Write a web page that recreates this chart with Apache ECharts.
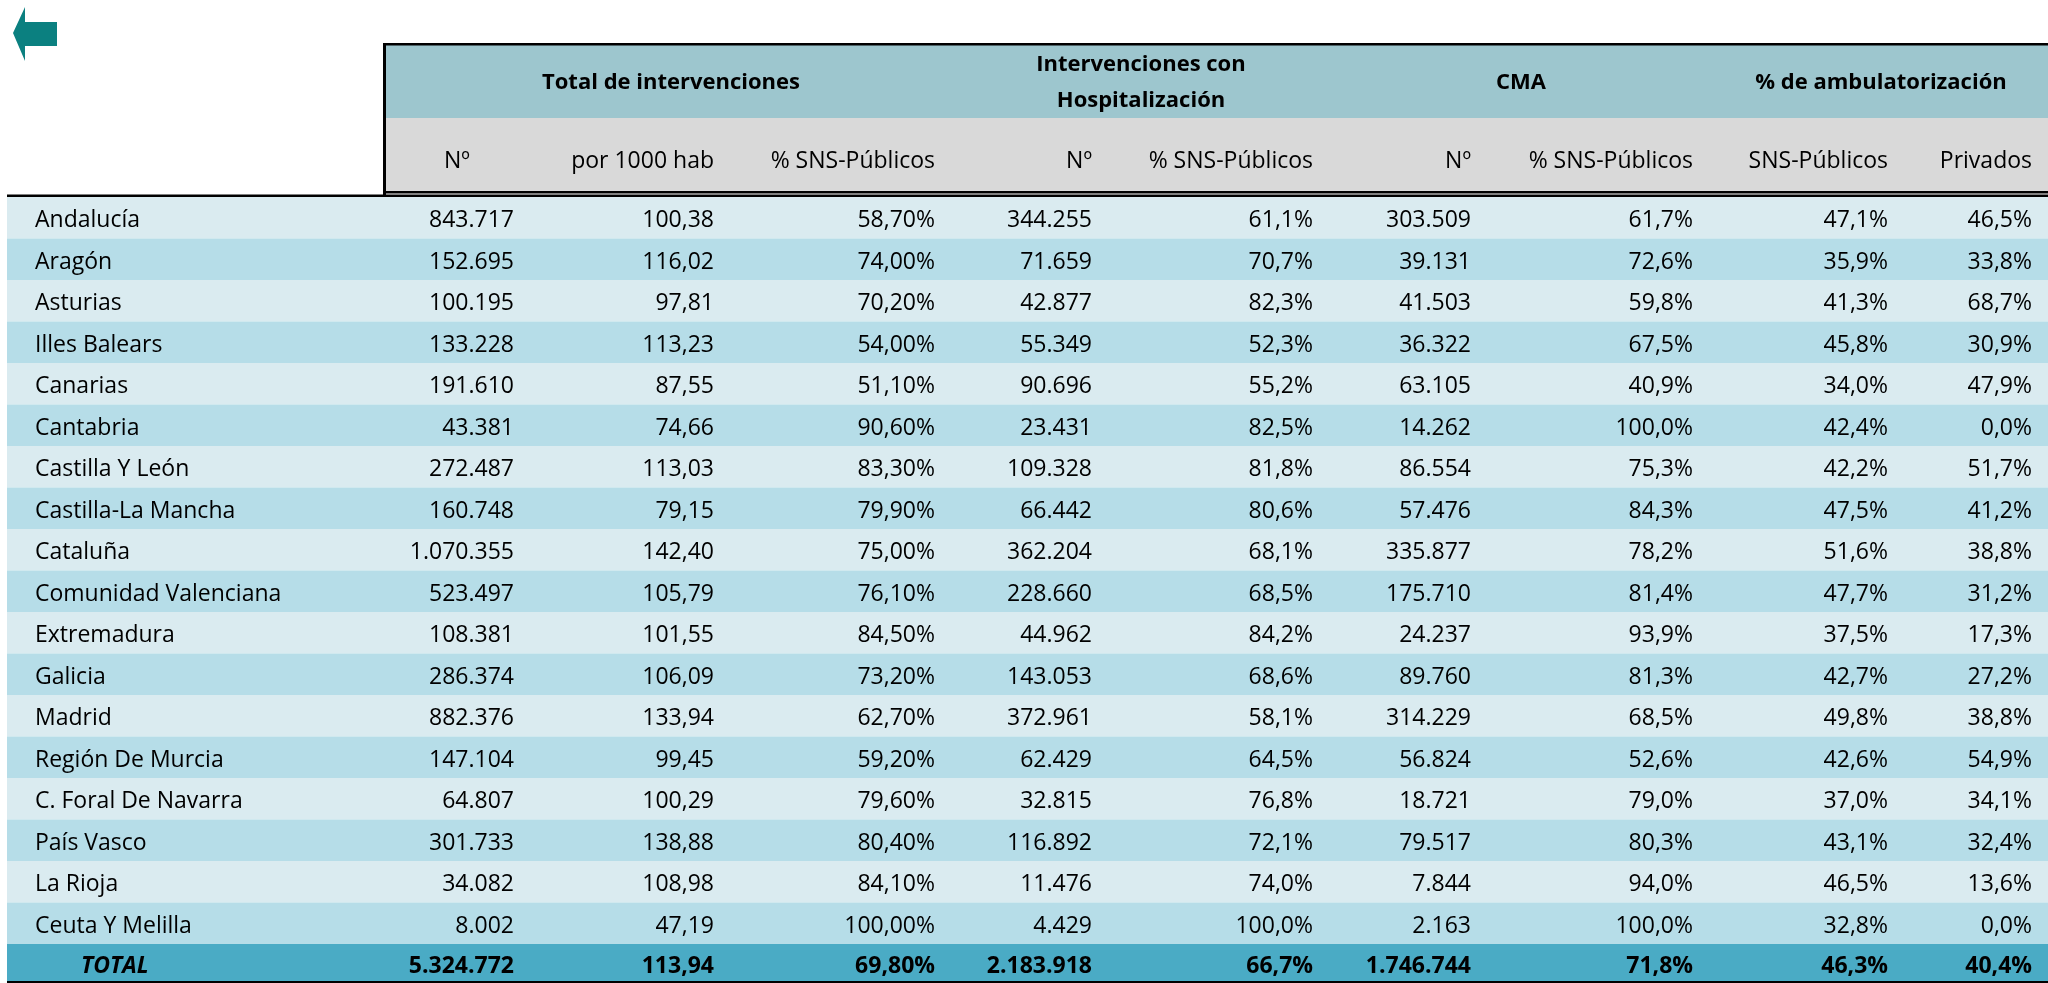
<!DOCTYPE html>
<html>
<head>
<meta charset="utf-8">
<script src="https://cdn.jsdelivr.net/npm/echarts@6/dist/echarts.min.js"></script>
<style>
  html, body { margin: 0; padding: 0; background: #fff; }
  #tabla { width: 2048px; height: 983px; }
</style>
</head>
<body>
<div id="tabla"></div>
<script>
// datos de la tabla
const regiones = ['Andalucía', 'Aragón', 'Asturias', 'Illes Balears', 'Canarias', 'Cantabria',
  'Castilla Y León', 'Castilla-La Mancha', 'Cataluña', 'Comunidad Valenciana', 'Extremadura',
  'Galicia', 'Madrid', 'Región De Murcia', 'C. Foral De Navarra', 'País Vasco', 'La Rioja',
  'Ceuta Y Melilla'];
const totalNum = [843717, 152695, 100195, 133228, 191610, 43381, 272487, 160748, 1070355, 523497,
  108381, 286374, 882376, 147104, 64807, 301733, 34082, 8002];
const totalPor1000 = [100.38, 116.02, 97.81, 113.23, 87.55, 74.66, 113.03, 79.15, 142.40, 105.79,
  101.55, 106.09, 133.94, 99.45, 100.29, 138.88, 108.98, 47.19];
const totalPctSNS = [58.70, 74.00, 70.20, 54.00, 51.10, 90.60, 83.30, 79.90, 75.00, 76.10,
  84.50, 73.20, 62.70, 59.20, 79.60, 80.40, 84.10, 100.00];
const hospNum = [344255, 71659, 42877, 55349, 90696, 23431, 109328, 66442, 362204, 228660,
  44962, 143053, 372961, 62429, 32815, 116892, 11476, 4429];
const hospPctSNS = [61.1, 70.7, 82.3, 52.3, 55.2, 82.5, 81.8, 80.6, 68.1, 68.5,
  84.2, 68.6, 58.1, 64.5, 76.8, 72.1, 74.0, 100.0];
const cmaNum = [303509, 39131, 41503, 36322, 63105, 14262, 86554, 57476, 335877, 175710,
  24237, 89760, 314229, 56824, 18721, 79517, 7844, 2163];
const cmaPctSNS = [61.7, 72.6, 59.8, 67.5, 40.9, 100.0, 75.3, 84.3, 78.2, 81.4,
  93.9, 81.3, 68.5, 52.6, 79.0, 80.3, 94.0, 100.0];
const ambSNS = [47.1, 35.9, 41.3, 45.8, 34.0, 42.4, 42.2, 47.5, 51.6, 47.7,
  37.5, 42.7, 49.8, 42.6, 37.0, 43.1, 46.5, 32.8];
const ambPrivados = [46.5, 33.8, 68.7, 30.9, 47.9, 0.0, 51.7, 41.2, 38.8, 31.2,
  17.3, 27.2, 38.8, 54.9, 34.1, 32.4, 13.6, 0.0];
const totales = [5324772, 113.94, 69.80, 2183918, 66.7, 1746744, 71.8, 46.3, 40.4];

const grupos = ['Total de intervenciones', 'Intervenciones con\nHospitalización', 'CMA', '% de ambulatorización'];
const subcabeceras = ['Nº', 'por 1000 hab', '% SNS-Públicos', 'Nº', '% SNS-Públicos', 'Nº',
  '% SNS-Públicos', 'SNS-Públicos', 'Privados'];

const columnas = [totalNum, totalPor1000, totalPctSNS, hospNum, hospPctSNS, cmaNum, cmaPctSNS, ambSNS, ambPrivados];

// formato de cada columna (decimales, si lleva %)
const decimales = [0, 2, 2, 0, 1, 0, 1, 1, 1];
const esPct = [false, false, true, false, true, false, true, true, true];

// maquetación (px en el eje x, que va de 0 a 2048)
const bordeDer = [514, 714, 935, 1092, 1313, 1471, 1693, 1888, 2032];
const centroGrupo = [671, 1141, 1521, 1881];
const FUENTE = '"Open Sans", Lato, sans-serif';
const TAM = 23;

function formato(v, dec, pct) {
  let [ent, fr] = v.toFixed(dec).split('.');
  ent = ent.replace(/\B(?=(\d{3})+(?!\d))/g, '.');
  return (fr ? ent + ',' + fr : ent) + (pct ? '%' : '');
}

function texto(x, y, t, align, extra) {
  return {
    type: 'text',
    style: Object.assign({
      text: t, x: x, y: y,
      align: align, verticalAlign: 'middle',
      textAlign: align, textVerticalAlign: 'middle',
      fontFamily: FUENTE, fontSize: TAM, fill: '#000'
    }, extra || {})
  };
}

function pintarCabecera(params, api) {
  const fila = api.value(1);
  const c = api.coord([0, fila]);
  const h = api.size([0, 1])[1];
  const x0 = api.coord([385, fila])[0];
  const x1 = api.coord([2048, fila])[0];
  const hijos = [{
    type: 'rect',
    shape: { x: x0, y: c[1] - h / 2, width: x1 - x0, height: h },
    style: { fill: fila === 0 ? '#9dc6ce' : '#d9d9d9' }
  }];
  if (fila === 0) {
    grupos.forEach((g, i) => {
      hijos.push(texto(api.coord([centroGrupo[i], fila])[0], c[1] + 1, g, 'center',
        { fontWeight: 'bold', fontSize: 22, lineHeight: 36 }));
    });
  } else {
    subcabeceras.forEach((s, j) => {
      if (j === 0) {
        hijos.push(texto(api.coord([457, fila])[0], c[1] + 7, s, 'center'));
      } else {
        hijos.push(texto(api.coord([bordeDer[j], fila])[0], c[1] + 7, s, 'right'));
      }
    });
  }
  return { type: 'group', children: hijos };
}

function pintarFila(params, api) {
  const r = api.value(1);
  const c = api.coord([0, r]);
  const h = api.size([0, 1])[1];
  const x0 = api.coord([7, r])[0];
  const x1 = api.coord([2048, r])[0];
  const y = c[1] + 3;
  const hijos = [{
    type: 'rect',
    shape: { x: x0, y: c[1] - h / 2, width: x1 - x0, height: h },
    style: { fill: r % 2 ? '#b6dde8' : '#daebf0' }
  }];
  hijos.push(texto(api.coord([35, r])[0], y, regiones[r], 'left'));
  columnas.forEach((col, j) => {
    hijos.push(texto(api.coord([bordeDer[j], r])[0], y, formato(col[r], decimales[j], esPct[j]), 'right'));
  });
  return { type: 'group', children: hijos };
}

function pintarTotal(params, api) {
  const c = api.coord([0, 0]);
  const h = api.size([0, 1])[1];
  const x0 = api.coord([7, 0])[0];
  const x1 = api.coord([2048, 0])[0];
  const y = c[1] + 4;
  const hijos = [{
    type: 'rect',
    shape: { x: x0, y: c[1] - h / 2, width: x1 - x0, height: h },
    style: { fill: '#4aabc5' }
  }];
  hijos.push(texto(api.coord([81, 0])[0], y, 'TOTAL', 'left', { fontWeight: 'bold', fontStyle: 'italic' }));
  totales.forEach((v, j) => {
    hijos.push(texto(api.coord([bordeDer[j], 0])[0], y, formato(v, decimales[j], esPct[j]), 'right',
      { fontWeight: 'bold' }));
  });
  return { type: 'group', children: hijos };
}

const ejeX = (i) => ({ type: 'value', gridIndex: i, min: 0, max: 2048, show: false });

const chart = echarts.init(document.getElementById('tabla'));
chart.setOption({
  animation: false,
  grid: [
    { left: 0, right: 0, top: 45, height: 146 },
    { left: 0, right: 0, top: 197, height: 747 },
    { left: 0, right: 0, top: 944, height: 37 }
  ],
  xAxis: [ejeX(0), ejeX(1), ejeX(2)],
  yAxis: [
    { type: 'category', gridIndex: 0, data: ['grupo', 'detalle'], inverse: true, show: false },
    { type: 'category', gridIndex: 1, data: regiones, inverse: true, show: false },
    { type: 'category', gridIndex: 2, data: ['TOTAL'], show: false }
  ],
  series: [
    {
      type: 'custom', xAxisIndex: 0, yAxisIndex: 0,
      renderItem: pintarCabecera,
      encode: { x: 0, y: 1 },
      data: [[0, 0], [0, 1]]
    },
    {
      type: 'custom', xAxisIndex: 1, yAxisIndex: 1,
      renderItem: pintarFila,
      encode: { x: 0, y: 1 },
      data: regiones.map((_, i) => [0, i])
    },
    {
      type: 'custom', xAxisIndex: 2, yAxisIndex: 2,
      renderItem: pintarTotal,
      encode: { x: 0, y: 1 },
      data: [[0, 0]]
    }
  ],
  graphic: [
    // flecha de volver
    {
      type: 'polygon', z: 10,
      shape: { points: [[13, 33], [25, 7], [25, 22], [57, 22], [57, 46], [25, 46], [25, 61]] },
      style: { fill: '#0b8080' }
    },
    // bordes
    { type: 'rect', z: 10, shape: { x: 383, y: 43, width: 1665, height: 2.5 }, style: { fill: '#000' } },
    { type: 'rect', z: 10, shape: { x: 383, y: 43, width: 3, height: 154 }, style: { fill: '#000' } },
    { type: 'rect', z: 10, shape: { x: 383, y: 191, width: 1665, height: 2.5 }, style: { fill: '#000' } },
    { type: 'rect', z: 10, shape: { x: 7, y: 194.5, width: 2041, height: 2.5 }, style: { fill: '#000' } },
    { type: 'rect', z: 10, shape: { x: 7, y: 981, width: 2041, height: 2 }, style: { fill: '#000' } }
  ]
});
</script>
</body>
</html>
